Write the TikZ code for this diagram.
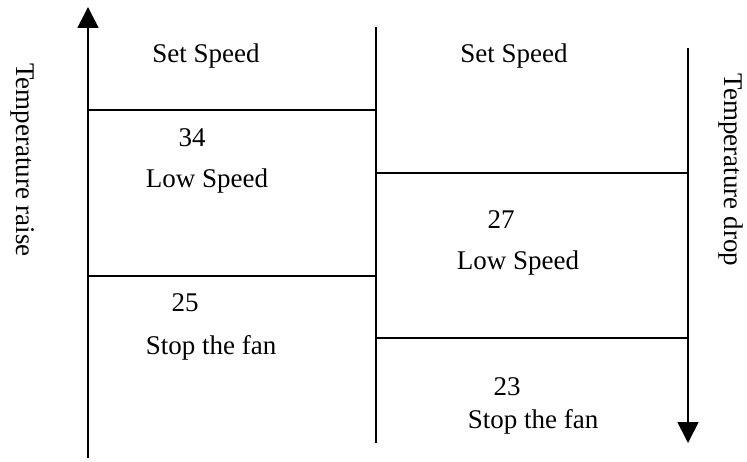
\documentclass[tikz,border=0pt]{standalone}
\usepackage{fontspec}
\setmainfont{Liberation Serif}
\usetikzlibrary{arrows.meta}
\begin{document}
\begin{tikzpicture}[x=1pt,y=-1pt,
  ln/.style={line width=1.6pt,line cap=butt},
  axis/.style={ln,-{Triangle[length=21pt,width=21pt]}},
  lbl/.style={font=\fontsize{27}{32}\selectfont,inner sep=0pt,anchor=base},
  side/.style={font=\fontsize{27}{32}\selectfont,inner sep=0pt,rotate=-90}]
\useasboundingbox (0,0) rectangle (747,462);
% coordinates
\coordinate (Lb) at (88,458);
\coordinate (Lt) at (88,7);
\coordinate (Mt) at (376,27);
\coordinate (Mb) at (376,443);
\coordinate (Rt) at (688,48);
\coordinate (Rb) at (688,443);
\coordinate (L1a) at (88,110);  \coordinate (L1b) at (376,110);
\coordinate (L2a) at (88,276);  \coordinate (L2b) at (376,276);
\coordinate (R1a) at (376,173); \coordinate (R1b) at (688,173);
\coordinate (R2a) at (376,338); \coordinate (R2b) at (688,338);
% axes and lines
\draw[axis] (Lb) -- (Lt);
\draw[ln] (Mt) -- (Mb);
\draw[axis] (Rt) -- (Rb);
\draw[ln] (L1a) -- (L1b);
\draw[ln] (L2a) -- (L2b);
\draw[ln] (R1a) -- (R1b);
\draw[ln] (R2a) -- (R2b);
% texts
\node[lbl] (s1) at (206,63) {Set Speed};
\node[lbl] (s2) at (514,63) {Set Speed};
\node[lbl] (n34) at (192,147) {34};
\node[lbl] (lo1) at (207,188) {Low Speed};
\node[lbl] (n25) at (185,312) {25};
\node[lbl] (st1) at (211,354) {Stop the fan};
\node[lbl] (n27) at (501,229) {27};
\node[lbl] (lo2) at (518,270) {Low Speed};
\node[lbl] (n23) at (507,395) {23};
\node[lbl] (st2) at (533,428) {Stop the fan};
\node[side] (tr) at (23,160) {Temperature raise};
\node[side] (td) at (731,170) {Temperature drop};
\end{tikzpicture}
\end{document}
